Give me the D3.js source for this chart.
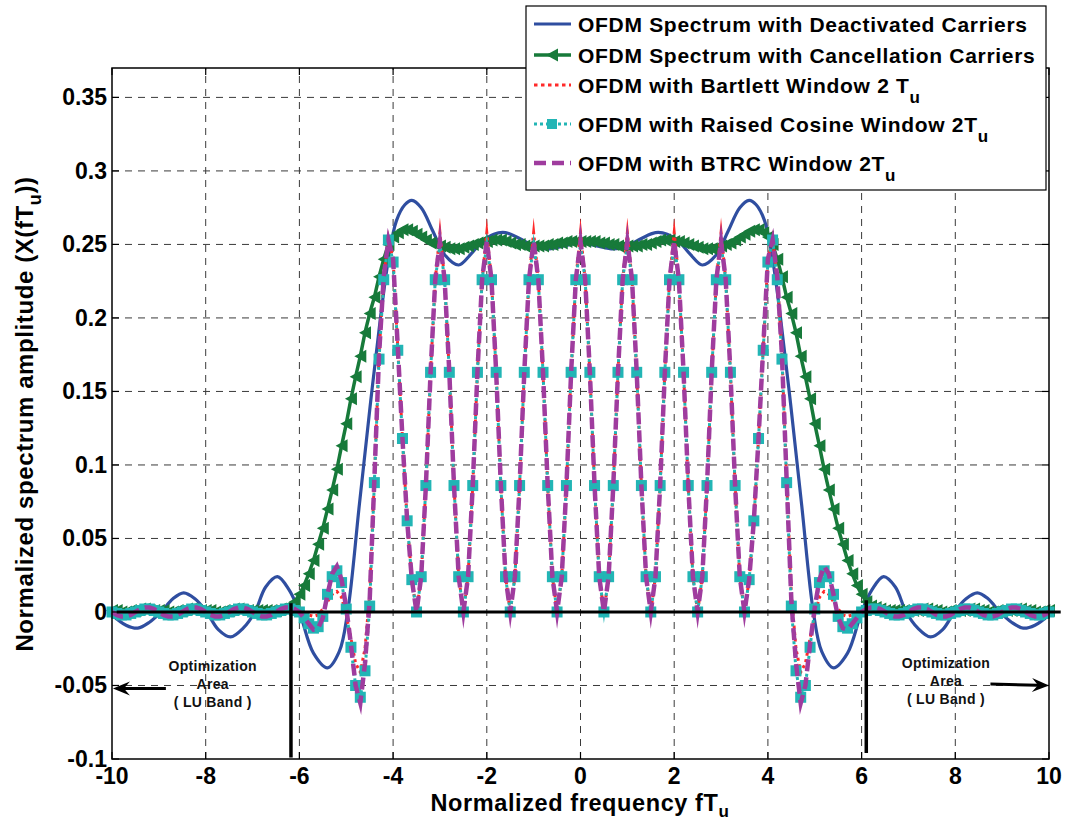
<!DOCTYPE html>
<html><head><meta charset="utf-8">
<script src="https://cdn.jsdelivr.net/npm/d3@7"></script>
<style>
body{margin:0;background:#fff;}
svg{display:block;font-family:"Liberation Sans",Arial,Helvetica,sans-serif;font-weight:bold;}
</style></head><body>
<svg id="chart" width="1065" height="822"></svg>
<script>
// ---------------- DATA ----------------
const xTicks = [-10,-8,-6,-4,-2,0,2,4,6,8,10];
const xTickLabels = ["-10","-8","-6","-4","-2","0","2","4","6","8","10"];
const yTicks = [-0.1,-0.05,0,0.05,0.1,0.15,0.2,0.25,0.3,0.35];
const yTickLabels = ["-0.1","-0.05","0","0.05","0.1","0.15","0.2","0.25","0.3","0.35"];

const seriesNames = [
  ["OFDM Spectrum with Deactivated Carriers", ""],
  ["OFDM Spectrum with Cancellation Carriers", ""],
  ["OFDM with Bartlett Window 2 T", "u"],
  ["OFDM with Raised Cosine Window 2T", "u"],
  ["OFDM with BTRC Window 2T", "u"]
];

// sampling frequencies (fTu) of the windowed / cancellation curves, step 0.1
const freqGrid = d3.range(-100, 101).map(i => i / 10);

// Deactivated carriers (blue) : read points
const deactFreq = [-10,-9.7,-9.45,-9.2,-8.95,-8.7,-8.47,-8.23,-7.98,-7.73,-7.47,-7.2,-6.95,-6.72,-6.47,-6.22,-6.0,-5.7,-5.4,-5.15,
  -4.97,-4.72,-4.49,-4.27,-4.1,-3.93,-3.75,-3.6,-3.4,-3.15,-2.9,-2.6,-2.35,-2.1,-1.85,-1.6,-1.3,-1.0,-0.7,-0.35,0,
  0.35,0.7,1.0,1.3,1.6,1.85,2.1,2.35,2.6,2.9,3.15,3.4,3.6,3.75,3.93,4.1,4.27,4.49,4.72,4.97,
  5.15,5.4,5.7,6.0,6.22,6.47,6.72,6.95,7.2,7.47,7.73,7.98,8.23,8.47,8.7,8.95,9.2,9.45,9.7,10];
const deactAmp = [-0.002,-0.009,-0.011,-0.007,0,0.009,0.013,0.009,0,-0.012,-0.017,-0.011,0,0.017,0.024,0.015,0,-0.028,-0.038,-0.027,
  0,0.073,0.14,0.2,0.24,0.266,0.277,0.28,0.275,0.259,0.243,0.236,0.243,0.252,0.257,0.258,0.254,0.249,0.247,0.249,0.251,
  0.249,0.247,0.249,0.254,0.258,0.257,0.252,0.243,0.236,0.243,0.259,0.275,0.28,0.277,0.266,0.24,0.2,0.14,0.073,0,
  -0.027,-0.038,-0.028,0,0.015,0.024,0.017,0,-0.011,-0.017,-0.012,0,0.009,0.013,0.009,0,-0.007,-0.011,-0.009,-0.002];

// Cancellation carriers (green), on freqGrid
const cancelAmp = [
  0.001,0.001,0.000,0.000,0.001,0.001,0.002,0.002,0.001,0.001,
  0.001,0.001,0.000,0.000,0.001,0.001,0.002,0.002,0.001,0.001,
  0.001,0.001,0.000,0.000,0.001,0.001,0.002,0.002,0.001,0.001,
  0.001,0.001,0.001,0.001,0.001,0.001,
  0.002,0.003,0.004,0.007,0.012,0.018,0.026,0.035,0.046,0.057,0.070,0.083,0.097,0.113,0.128,
  0.145,0.160,0.174,0.190,0.203,0.214,0.228,0.240,0.250,0.255,
  0.258,0.260,0.260,0.259,0.257,0.255,0.253,0.251,0.250,0.249,
  0.248,0.247,0.247,0.247,0.248,0.249,0.250,0.251,0.252,0.252,
  0.253,0.253,0.253,0.252,0.251,0.250,0.250,0.249,0.249,0.249,
  0.249,0.249,0.250,0.250,0.251,0.251,0.252,0.252,0.252,
  0.252,
  0.252,0.252,0.252,0.251,0.251,0.250,0.250,0.249,0.249,
  0.249,0.249,0.249,0.250,0.250,0.251,0.252,0.253,0.253,0.253,
  0.252,0.252,0.251,0.250,0.249,0.248,0.247,0.247,0.247,0.248,
  0.249,0.250,0.251,0.253,0.255,0.257,0.259,0.260,0.260,0.258,
  0.255,0.250,0.240,0.228,0.214,0.203,0.190,0.174,0.160,0.145,
  0.128,0.113,0.097,0.083,0.070,0.057,0.046,0.035,0.026,0.018,0.012,0.007,0.004,0.003,0.002,
  0.001,0.001,0.001,0.001,0.001,0.001,
  0.001,0.001,0.002,0.002,0.001,0.001,0.000,0.000,0.001,0.001,
  0.001,0.001,0.002,0.002,0.001,0.001,0.000,0.000,0.001,0.001,
  0.001,0.001,0.002,0.002,0.001,0.001,0.000,0.000,0.001,0.001
];

// Bartlett window (red dotted), on freqGrid
const bartlettAmp = [
  0,-0.001,-0.001,-0.001,0,0,0.001,0.001,0.001,0,
  0,-0.001,-0.001,-0.001,0,0,0.001,0.001,0.001,0,
  0,-0.001,-0.001,-0.001,0,0,0.001,0.001,0.001,0,
  0,-0.001,-0.001,-0.001,0,0,0.001,0.001,0.001,0,
  0,
  -0.001,-0.002,-0.003,-0.002,0.002,0.007,0.012,0.014,0.010,-0.002,
  -0.018,-0.035,-0.041,-0.025,0.012,0.090,0.175,0.228,0.254,0.240,
  0.180,0.118,0.062,0.022,
  0,0.024,0.086,0.163,0.226,0.258,0.226,0.163,0.086,0.024,
  0,0.024,0.086,0.163,0.226,0.258,0.226,0.163,0.086,0.024,
  0,0.024,0.086,0.163,0.226,0.258,0.226,0.163,0.086,0.024,
  0,0.024,0.086,0.163,0.226,0.258,0.226,0.163,0.086,0.024,
  0,0.024,0.086,0.163,0.226,0.258,0.226,0.163,0.086,0.024,
  0,0.024,0.086,0.163,0.226,0.258,0.226,0.163,0.086,0.024,
  0,0.024,0.086,0.163,0.226,0.258,0.226,0.163,0.086,0.024,
  0,
  0.022,0.062,0.118,0.180,
  0.240,0.254,0.228,0.175,0.090,0.012,-0.025,-0.041,-0.035,-0.018,
  -0.002,0.010,0.014,0.012,0.007,0.002,-0.002,-0.003,-0.002,-0.001,
  0,
  0,0.001,0.001,0.001,0,0,-0.001,-0.001,-0.001,0,
  0,0.001,0.001,0.001,0,0,-0.001,-0.001,-0.001,0,
  0,0.001,0.001,0.001,0,0,-0.001,-0.001,-0.001,0,
  0,0.001,0.001,0.001,0,0,-0.001,-0.001,-0.001,0
];

// Raised cosine window (cyan, square markers), on freqGrid
const rcAmp = [
  0,-0.001,-0.002,-0.002,-0.001,0,0.001,0.002,0.002,0.001,
  0,-0.001,-0.002,-0.002,-0.001,0,0.001,0.002,0.002,0.001,
  0,-0.001,-0.002,-0.002,-0.001,0,0.001,0.002,0.002,0.001,
  0,-0.001,-0.002,-0.002,-0.001,0,0.001,0.002,0.002,0.001,
  0,
  -0.004,-0.008,-0.011,-0.010,-0.003,0.012,0.024,0.028,0.020,0.002,
  -0.024,-0.050,-0.058,-0.040,0.004,0.088,0.172,0.226,0.253,0.238,
  0.178,0.118,0.062,0.022,
  0,0.024,0.086,0.163,0.226,0.250,0.226,0.163,0.086,0.024,
  0,0.024,0.086,0.163,0.226,0.250,0.226,0.163,0.086,0.024,
  0,0.024,0.086,0.163,0.226,0.250,0.226,0.163,0.086,0.024,
  0,0.024,0.086,0.163,0.226,0.250,0.226,0.163,0.086,0.024,
  0,0.024,0.086,0.163,0.226,0.250,0.226,0.163,0.086,0.024,
  0,0.024,0.086,0.163,0.226,0.250,0.226,0.163,0.086,0.024,
  0,0.024,0.086,0.163,0.226,0.250,0.226,0.163,0.086,0.024,
  0,
  0.022,0.062,0.118,0.178,
  0.238,0.253,0.226,0.172,0.088,0.004,-0.040,-0.058,-0.050,-0.024,
  0.002,0.020,0.028,0.024,0.012,-0.003,-0.010,-0.011,-0.008,-0.004,
  0,
  0.001,0.002,0.002,0.001,0,-0.001,-0.002,-0.002,-0.001,0,
  0.001,0.002,0.002,0.001,0,-0.001,-0.002,-0.002,-0.001,0,
  0.001,0.002,0.002,0.001,0,-0.001,-0.002,-0.002,-0.001,0,
  0.001,0.002,0.002,0.001,0,-0.001,-0.002,-0.002,-0.001,0
];
// carrier-centre samples of the RC curve that carry no marker
const rcMarkerOmit = [-3,-2,-1,0,1,2,3];

// BTRC window (magenta dashed), on freqGrid
const btrcAmp = [
  0,-0.002,-0.003,-0.003,-0.002,0,0.002,0.003,0.003,0.002,
  0,-0.002,-0.003,-0.003,-0.002,0,0.002,0.003,0.003,0.002,
  0,-0.002,-0.003,-0.003,-0.002,0,0.002,0.003,0.003,0.002,
  0,-0.002,-0.003,-0.003,-0.002,0,0.002,0.003,0.003,0.002,
  0,
  -0.004,-0.008,-0.012,-0.011,-0.004,0.012,0.026,0.031,0.022,0.003,
  -0.022,-0.050,-0.062,-0.035,0.008,0.090,0.175,0.228,0.253,0.240,
  0.180,0.118,0.062,0.022,
  0,0.024,0.086,0.163,0.226,0.252,0.226,0.163,0.086,0.024,
  0,0.024,0.086,0.163,0.226,0.252,0.226,0.163,0.086,0.024,
  0,0.024,0.086,0.163,0.226,0.252,0.226,0.163,0.086,0.024,
  0,0.024,0.086,0.163,0.226,0.252,0.226,0.163,0.086,0.024,
  0,0.024,0.086,0.163,0.226,0.252,0.226,0.163,0.086,0.024,
  0,0.024,0.086,0.163,0.226,0.252,0.226,0.163,0.086,0.024,
  0,0.024,0.086,0.163,0.226,0.252,0.226,0.163,0.086,0.024,
  0,
  0.022,0.062,0.118,0.180,
  0.240,0.253,0.228,0.175,0.090,0.008,-0.035,-0.062,-0.050,-0.022,
  0.003,0.022,0.031,0.026,0.012,-0.004,-0.011,-0.012,-0.008,-0.004,
  0,
  0.002,0.003,0.003,0.002,0,-0.002,-0.003,-0.003,-0.002,0,
  0.002,0.003,0.003,0.002,0,-0.002,-0.003,-0.003,-0.002,0,
  0.002,0.003,0.003,0.002,0,-0.002,-0.003,-0.003,-0.002,0,
  0.002,0.003,0.003,0.002,0,-0.002,-0.003,-0.003,-0.002,0
];

// annotations
const zeroLineFreq = [-9.9, 10.25];
const bandEdgeFreq = [-6.18, 6.1];
const bandEdgeTop = [0.006, 0.008];
const bandEdgeBottom = [-0.099, -0.096];
const arrowTail = [[-8.85, -0.052], [8.75, -0.049]];
const arrowHead = [[-9.98, -0.052], [10.0, -0.050]];
const annotCenter = [[-7.85, -0.040], [7.8, -0.038]];
const annotLines = ["Optimization", "Area", "( LU Band )"];

// ---------------- DRAWING ----------------
const colors = ["#2f4ea0", "#177a3a", "#ff2a2a", "#22b5b5", "#9f3c9e"];
const svg = d3.select("#chart");
const L = 112, R = 1049, T = 68, B = 759;
const x = d3.scaleLinear().domain([-10, 10]).range([L, R]);
const y = d3.scaleLinear().domain([-0.1, 0.37]).range([B, T]);

// grid
const grid = svg.append("g").attr("stroke", "#3a3a3a").attr("stroke-width", 1).attr("stroke-dasharray", "7,6");
xTicks.filter(v => v > -10 && v < 10).forEach(v => {
  grid.append("line").attr("x1", x(v)).attr("x2", x(v)).attr("y1", B).attr("y2", T);
});
yTicks.filter(v => v > -0.1).forEach(v => {
  grid.append("line").attr("x1", L).attr("x2", R).attr("y1", y(v)).attr("y2", y(v));
});

const gridPts = arr => freqGrid.map((f, i) => [f, arr[i]]);
const lineLin = d3.line().x(d => x(d[0])).y(d => y(d[1]));

// blue
svg.append("path")
  .datum(deactFreq.map((f, i) => [f, deactAmp[i]]))
  .attr("d", d3.line().x(d => x(d[0])).y(d => y(d[1])).curve(d3.curveCatmullRom.alpha(0.5)))
  .attr("fill", "none").attr("stroke", colors[0]).attr("stroke-width", 3.2);

// green
const greenPts = gridPts(cancelAmp);
svg.append("path").datum(greenPts).attr("d", lineLin)
  .attr("fill", "none").attr("stroke", colors[1]).attr("stroke-width", 3.5);
const triPath = "M-6,0L6,-6.5L6,6.5Z";
svg.append("g").selectAll("path").data(greenPts).join("path")
  .attr("d", triPath).attr("transform", d => `translate(${x(d[0])},${y(d[1])})`)
  .attr("fill", colors[1]);

// red dotted
svg.append("path").datum(gridPts(bartlettAmp)).attr("d", lineLin)
  .attr("fill", "none").attr("stroke", colors[2]).attr("stroke-width", 3)
  .attr("stroke-dasharray", "3,3.5").attr("stroke-miterlimit", 12);

// cyan
const rcPts = gridPts(rcAmp);
svg.append("path").datum(rcPts).attr("d", lineLin)
  .attr("fill", "none").attr("stroke", colors[3]).attr("stroke-width", 3)
  .attr("stroke-dasharray", "3,3").attr("stroke-miterlimit", 10);
svg.append("g").selectAll("rect")
  .data(rcPts.filter(d => !rcMarkerOmit.some(o => Math.abs(o - d[0]) < 1e-6)))
  .join("rect")
  .attr("x", d => x(d[0]) - 5.5).attr("y", d => y(d[1]) - 5.5)
  .attr("width", 11).attr("height", 11).attr("fill", colors[3]);

// magenta dashed
svg.append("path").datum(gridPts(btrcAmp)).attr("d", lineLin)
  .attr("fill", "none").attr("stroke", colors[4]).attr("stroke-width", 4.5)
  .attr("stroke-dasharray", "12,6").attr("stroke-miterlimit", 10);

// zero line + band edges
svg.append("line").attr("x1", x(zeroLineFreq[0])).attr("x2", x(zeroLineFreq[1]))
  .attr("y1", y(0)).attr("y2", y(0)).attr("stroke", "#000").attr("stroke-width", 3.2);
bandEdgeFreq.forEach((f, i) => {
  svg.append("line").attr("x1", x(f)).attr("x2", x(f))
    .attr("y1", y(bandEdgeTop[i])).attr("y2", y(bandEdgeBottom[i]))
    .attr("stroke", "#000").attr("stroke-width", 3.5);
});

// arrows
arrowTail.forEach((t, i) => {
  const h = arrowHead[i];
  const x1 = x(t[0]), y1 = y(t[1]), x2 = x(h[0]), y2 = y(h[1]);
  const ang = Math.atan2(y2 - y1, x2 - x1);
  const len = 17, wid = 7, back = 11;
  svg.append("line").attr("x1", x1).attr("y1", y1)
    .attr("x2", x2 - Math.cos(ang) * back).attr("y2", y2 - Math.sin(ang) * back)
    .attr("stroke", "#000").attr("stroke-width", 3);
  const ca = Math.cos(ang), sa = Math.sin(ang);
  const p = (a, b) => [x2 + ca * a - sa * b, y2 + sa * a + ca * b];
  const pts = [p(0, 0), p(-len, -wid), p(-back, 0), p(-len, wid)];
  svg.append("path").attr("d", "M" + pts.map(q => q.join(",")).join("L") + "Z").attr("fill", "#000");
});
annotCenter.forEach(c => {
  const t = svg.append("text").attr("text-anchor", "middle").attr("font-size", 14)
    .attr("letter-spacing", 0.3).attr("fill", "#111");
  annotLines.forEach((s, k) => {
    t.append("tspan").attr("x", x(c[0])).attr("y", y(c[1]) + k * 18).text(s);
  });
});

// axes box
svg.append("rect").attr("x", L).attr("y", T).attr("width", R - L).attr("height", B - T)
  .attr("fill", "none").attr("stroke", "#000").attr("stroke-width", 1.5);
const ticks = svg.append("g").attr("stroke", "#000").attr("stroke-width", 1.2);
xTicks.forEach(v => {
  ticks.append("line").attr("x1", x(v)).attr("x2", x(v)).attr("y1", B).attr("y2", B - 7);
  ticks.append("line").attr("x1", x(v)).attr("x2", x(v)).attr("y1", T).attr("y2", T + 7);
});
yTicks.forEach(v => {
  ticks.append("line").attr("x1", L).attr("x2", L + 7).attr("y1", y(v)).attr("y2", y(v));
  ticks.append("line").attr("x1", R).attr("x2", R - 7).attr("y1", y(v)).attr("y2", y(v));
});

// tick labels
svg.append("g").selectAll("text").data(xTicks).join("text")
  .attr("x", d => x(d)).attr("y", 784).attr("text-anchor", "middle")
  .attr("font-size", 23).text((d, i) => xTickLabels[i]);
svg.append("g").selectAll("text").data(yTicks).join("text")
  .attr("x", 107).attr("y", d => y(d) + 8).attr("text-anchor", "end")
  .attr("font-size", 23).text((d, i) => yTickLabels[i]);

// axis titles
const xt = svg.append("text").attr("x", 580).attr("y", 811).attr("text-anchor", "middle")
  .attr("font-size", 23.5).attr("letter-spacing", 0.6);
xt.append("tspan").text("Normalized frequency fT");
xt.append("tspan").attr("dy", 6).attr("font-size", 17).text("u");
const yt = svg.append("text").attr("transform", "translate(33,414) rotate(-90)")
  .attr("text-anchor", "middle").attr("font-size", 24).attr("letter-spacing", 0.6);
yt.append("tspan").text("Normalized spectrum amplitude (X(fT");
yt.append("tspan").attr("dy", 8).attr("font-size", 18).text("u");
yt.append("tspan").attr("dy", -8).text("))");

// legend
const lg = svg.append("g");
lg.append("rect").attr("x", 526).attr("y", 6).attr("width", 520).attr("height", 184)
  .attr("fill", "#fff").attr("stroke", "#000").attr("stroke-width", 1.2);
const legBase = [32, 63, 93, 132, 171];
seriesNames.forEach((nm, i) => {
  const cy = legBase[i] - 8;
  const ln = lg.append("line").attr("x1", 534).attr("x2", 571).attr("y1", cy).attr("y2", cy)
    .attr("stroke", colors[i]);
  if (i === 0) ln.attr("stroke-width", 3.2);
  if (i === 1) {
    ln.attr("stroke-width", 3.5);
    lg.append("path").attr("d", triPath).attr("transform", `translate(552,${cy})`).attr("fill", colors[1]);
  }
  if (i === 2) ln.attr("stroke-width", 3).attr("stroke-dasharray", "3.5,3.5");
  if (i === 3) {
    ln.attr("stroke-width", 3).attr("stroke-dasharray", "3,3");
    lg.append("rect").attr("x", 547).attr("y", cy - 5).attr("width", 10).attr("height", 10).attr("fill", colors[3]);
  }
  if (i === 4) ln.attr("stroke-width", 4.5).attr("stroke-dasharray", "12,6");
  const t = lg.append("text").attr("x", 578).attr("y", legBase[i]).attr("font-size", 21)
    .attr("letter-spacing", 0.7);
  t.append("tspan").text(nm[0]);
  if (nm[1]) t.append("tspan").attr("dy", 10).attr("font-size", 17).text(nm[1]);
});
</script>
</body></html>
